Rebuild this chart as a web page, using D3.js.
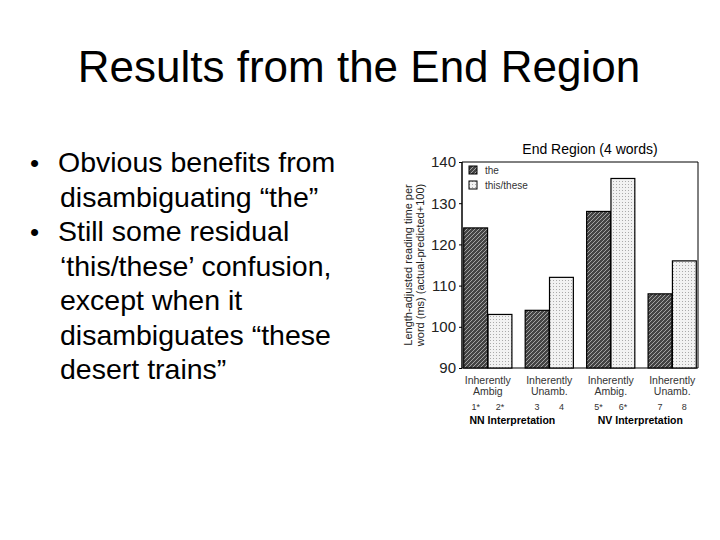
<!DOCTYPE html><html><head><meta charset="utf-8"><script src="https://cdn.jsdelivr.net/npm/d3@7"></script>
<style>body{margin:0;background:#fff}</style></head><body><svg id="c" width="720" height="540"></svg>
<script>
const groups=["g1","g2","g3","g4"];
const groupLabels=[["Inherently","Ambig"],["Inherently","Unamb."],["Inherently","Ambig."],["Inherently","Unamb."]];
const condLabels=[["1*","2*"],["3","4"],["5*","6*"],["7","8"]];
const theVals=[124,104,128,108];
const thisVals=[103,112,136,116];
const yTicks=[90,100,110,120,130,140];
const bullets=[["• ","Obvious benefits from"],["","disambiguating “the”"],["• ","Still some residual"],["","‘this/these’ confusion,"],["","except when it"],["","disambiguates “these"],["","desert trains”"]];
const svg=d3.select("#c");
const F="Liberation Sans, Arial, sans-serif";
svg.append("text").attr("x",359).attr("y",82).attr("text-anchor","middle").attr("font-family",F).attr("font-size",44).text("Results from the End Region");
bullets.forEach((b,i)=>{
  const y=172+i*34.5;
  if(b[0]) svg.append("text").attr("x",30).attr("y",y).attr("font-family",F).attr("font-size",26).text("•");
  svg.append("text").attr("x",i==0||i==2?58:60).attr("y",y).attr("font-family",F).attr("font-size",28.5).text(b[1]);
});
const defs=svg.append("defs");
const p1=defs.append("pattern").attr("id","hatch").attr("width",4).attr("height",4).attr("patternUnits","userSpaceOnUse");
p1.append("rect").attr("width",4).attr("height",4).attr("fill","#444");
p1.append("path").attr("d","M-1,1 l2,-2 M0,4 l4,-4 M3,5 l2,-2").attr("stroke","#bbb").attr("stroke-width",0.8);
const p2=defs.append("pattern").attr("id","dots").attr("width",3).attr("height",3).attr("patternUnits","userSpaceOnUse");
p2.append("rect").attr("width",3).attr("height",3).attr("fill","#f2f2f2");
p2.append("rect").attr("x",1).attr("y",1).attr("width",1).attr("height",1).attr("fill","#aaa");
const L=462,R=698,T=162,B=368;
const y=d3.scaleLinear().domain([90,140]).range([B,T]);
const x=d3.scaleBand().domain(groups).range([L,R]).paddingInner(0.2).paddingOuter(0.02);
const xs=d3.scaleBand().domain(["the","this"]).range([0,x.bandwidth()]).padding(0.02);
const g=svg.append("g");
g.append("line").attr("x1",L).attr("x2",L).attr("y1",T).attr("y2",B).attr("stroke","#000").attr("stroke-width",1.5);
g.append("line").attr("x1",L).attr("x2",R).attr("y1",T).attr("y2",T).attr("stroke","#000");
g.append("line").attr("x1",R).attr("x2",R).attr("y1",T).attr("y2",B).attr("stroke","#000");
g.append("line").attr("x1",L).attr("x2",R).attr("y1",B).attr("y2",B).attr("stroke","#000");
const ax=g.append("g").attr("transform",`translate(${L},0)`).call(d3.axisLeft(y).tickValues(yTicks).tickSize(3));
ax.select(".domain").remove();
ax.selectAll("text").attr("font-family",F).attr("font-size",15).attr("fill","#222");
groups.forEach((k,i)=>{
  [["the",theVals[i],"url(#hatch)"],["this",thisVals[i],"url(#dots)"]].forEach(([s,v,f])=>{
    g.append("rect").attr("x",x(k)+xs(s)).attr("y",y(v)).attr("width",xs.bandwidth()).attr("height",B-y(v)).attr("fill",f).attr("stroke","#000").attr("stroke-width",1.2);
  });
  const cx=x(k)+x.bandwidth()/2;
  groupLabels[i].forEach((t,j)=>g.append("text").attr("x",cx).attr("y",384+j*11).attr("text-anchor","middle").attr("font-family",F).attr("font-size",10.5).attr("fill","#333").text(t));
  condLabels[i].forEach((t,j)=>g.append("text").attr("x",x(k)+xs(j?"this":"the")+xs.bandwidth()/2).attr("y",410).attr("text-anchor","middle").attr("font-family",F).attr("font-size",9).attr("fill","#333").text(t));
});
g.append("text").attr("x",x("g1")+x.bandwidth()).attr("y",424).attr("text-anchor","middle").attr("font-family",F).attr("font-size",10.5).attr("font-weight","bold").text("NN Interpretation");
g.append("text").attr("x",x("g3")+x.bandwidth()+5).attr("y",424).attr("text-anchor","middle").attr("font-family",F).attr("font-size",10.5).attr("font-weight","bold").text("NV Interpretation");
g.append("text").attr("x",(L+R)/2+10).attr("y",154).attr("text-anchor","middle").attr("font-family",F).attr("font-size",14).text("End Region (4 words)");
const yl=g.append("text").attr("transform",`translate(412,${(T+B)/2}) rotate(-90)`).attr("text-anchor","middle").attr("font-family",F).attr("font-size",11).attr("fill","#222");
yl.append("tspan").attr("x",0).attr("dy",0).text("Length-adjusted reading time per");
yl.append("tspan").attr("x",0).attr("dy",12).text("word (ms) (actual-predicted+100)");
[["the","url(#hatch)",166],["this/these","url(#dots)",181]].forEach(([t,f,yy])=>{
  g.append("rect").attr("x",469).attr("y",yy).attr("width",8).attr("height",8).attr("fill",f).attr("stroke","#000");
  g.append("text").attr("x",485).attr("y",yy+8).attr("font-family",F).attr("font-size",10).attr("fill","#333").text(t);
});
</script></body></html>
